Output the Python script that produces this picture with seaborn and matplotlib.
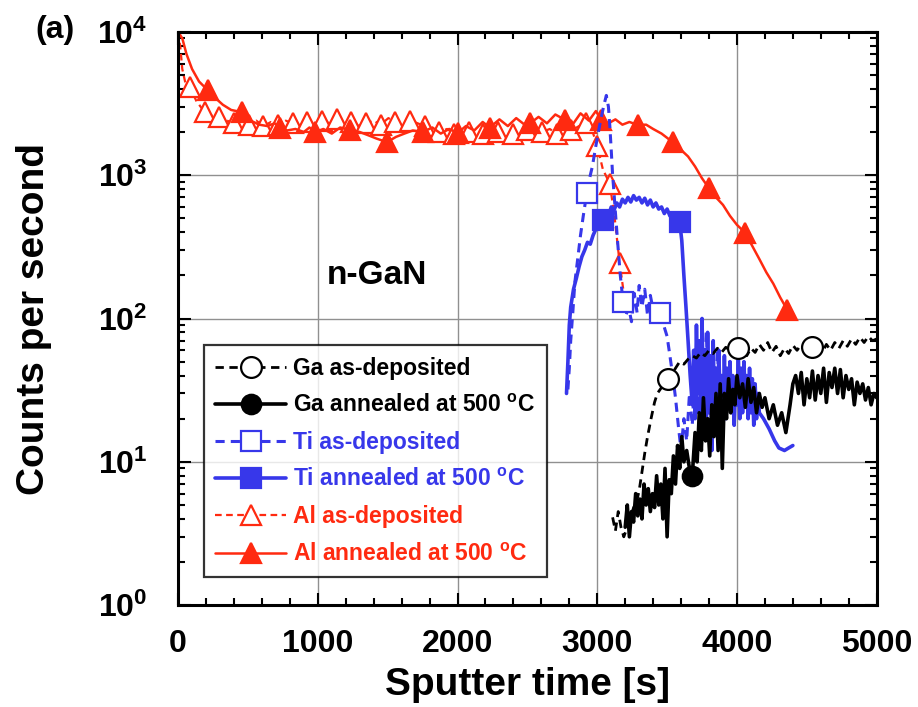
import numpy as np
import pandas as pd
import matplotlib
matplotlib.use("Agg")
import matplotlib.pyplot as plt
import seaborn as sns

# ---------------- data ----------------
al_ann_t = [0, 30, 60, 100, 150, 214, 260, 320, 380, 457, 520, 580, 640, 690, 730, 780, 840, 900,
            940, 980, 1040, 1100, 1160, 1230, 1300, 1360, 1420, 1495, 1560, 1620, 1680, 1750, 1820,
            1880, 1940, 2000, 2060, 2120, 2180, 2230, 2300, 2360, 2420, 2480, 2520, 2580, 2640,
            2700, 2770, 2830, 2880, 2940, 2990, 3030, 3080, 3130, 3180, 3230, 3290, 3350, 3400,
            3460, 3540, 3600, 3650, 3700, 3750, 3800, 3850, 3900, 3950, 4000, 4060, 4110, 4160,
            4210, 4260, 4310, 4360, 4400]
al_ann_v = [10000, 9000, 7000, 5500, 4500, 3900, 3500, 3100, 2850, 2750, 2400, 2250, 2200, 2300,
            2150, 2050, 2100, 2000, 2150, 2000, 2100, 1950, 2150, 2070, 2000, 1900, 1800, 1700,
            1850, 1950, 2050, 2000, 2150, 1950, 2100, 1970, 2200, 2050, 2350, 2150, 2450, 2200,
            2500, 2250, 2300, 2550, 2300, 2650, 2430, 2300, 2700, 2400, 2800, 2430, 2300, 2450,
            2250, 2350, 2240, 2250, 2100, 1950, 1700, 1500, 1350, 1150, 950, 810, 700, 620, 520,
            450, 395, 320, 260, 210, 175, 140, 115, 100]
al_ann_marks = [5, 9, 14, 19, 23, 27, 31, 35, 39, 44, 48, 53, 58, 62, 67, 72, 78]

al_dep_t = [0, 15, 30, 50, 86, 130, 190, 240, 295, 350, 400, 455, 505, 560, 610, 665, 715, 770,
            820, 875, 925, 980, 1030, 1085, 1135, 1190, 1240, 1295, 1345, 1400, 1450, 1505, 1555,
            1610, 1660, 1715, 1765, 1820, 1870, 1925, 1975, 2030, 2080, 2135, 2185, 2240, 2290,
            2345, 2395, 2450, 2500, 2555, 2605, 2660, 2710, 2765, 2815, 2870, 2920, 2960, 3000,
            3040, 3090, 3125, 3160, 3190, 3210]
al_dep_v = [10000, 8000, 5500, 4500, 4100, 3300, 2750, 2600, 2550, 2400, 2300, 2450, 2250, 2400,
            2200, 2350, 2250, 2400, 2300, 2200, 2350, 2250, 2400, 2300, 2450, 2250, 2350, 2200,
            2300, 2400, 2250, 2500, 2350, 2250, 2400, 2300, 2200, 2100, 2000, 2100, 1950, 1900,
            2000, 1850, 1950, 1900, 2000, 1850, 1950, 1900, 2050, 1950, 2000, 2100, 1950, 2150,
            2050, 2200, 2300, 2100, 1600, 1100, 870, 500, 245, 150, 120]
al_dep_marks = [4, 6, 8, 10, 12, 14, 16, 18, 20, 22, 24, 26, 28, 30, 32, 34, 36, 38, 40, 42, 44,
                46, 48, 50, 52, 54, 56, 58, 60, 62, 64]

ti_dep_t = [2790, 2800, 2810, 2825, 2840, 2860, 2880, 2900, 2925, 2945, 2965, 2990, 3020, 3045,
            3065, 3080, 3090, 3100, 3110, 3120, 3130, 3145, 3165, 3185, 3205, 3225, 3245, 3265,
            3285, 3300, 3320, 3340, 3360, 3380, 3400, 3425, 3450, 3475, 3500, 3520, 3540, 3560,
            3580, 3600, 3620, 3640, 3660, 3680, 3700, 3720, 3740, 3760, 3780, 3800, 3820, 3840,
            3860, 3880, 3900]
ti_dep_v = [32, 45, 70, 110, 180, 260, 380, 520, 750, 950, 1150, 1600, 2300, 3000, 3600, 3000,
            2200, 1500, 1000, 750, 550, 350, 200, 130, 105, 120, 95, 150, 110, 170, 120, 160, 105,
            145, 115, 125, 110, 90, 75, 55, 40, 28, 18, 12, 20, 14, 30, 18, 45, 22, 65, 25, 80,
            30, 55, 20, 60, 25, 40]
ti_dep_marks = [8, 23, 36]

ti_ann_t = [2780, 2790, 2800, 2810, 2830, 2850, 2870, 2890, 2910, 2930, 2950, 2970, 2990, 3010,
            3040, 3060, 3080, 3100, 3120, 3140, 3160, 3180, 3200, 3220, 3240, 3260, 3280, 3300,
            3320, 3340, 3360, 3380, 3400, 3420, 3440, 3460, 3480, 3500, 3520, 3540, 3560, 3590,
            3605, 3620, 3635, 3650, 3665, 3680, 3690, 3700, 3710, 3720, 3730, 3740, 3750, 3760,
            3770, 3780, 3790, 3800, 3810, 3820, 3830, 3840, 3850, 3860, 3870, 3880, 3890, 3900,
            3910, 3920, 3930, 3940, 3950, 3960, 3970, 3980, 3990, 4000, 4010, 4020, 4030, 4040,
            4050, 4060, 4070, 4080, 4090, 4100, 4110, 4120, 4130, 4140, 4150, 4160, 4190, 4230,
            4270, 4300, 4340, 4370, 4400]
ti_ann_v = [30, 50, 90, 120, 160, 190, 230, 270, 300, 340, 330, 380, 420, 470, 490, 540, 520,
            600, 570, 640, 600, 680, 640, 700, 650, 720, 670, 700, 640, 690, 620, 670, 600, 640,
            580, 600, 540, 580, 520, 540, 480, 470, 350, 200, 120, 70, 40, 25, 60, 20, 90, 30,
            70, 18, 100, 25, 60, 15, 80, 22, 55, 12, 70, 20, 45, 15, 60, 25, 40, 18, 55, 20, 45,
            25, 50, 22, 40, 18, 35, 25, 55, 20, 45, 22, 50, 25, 40, 20, 45, 22, 38, 18, 35, 20,
            30, 22, 20, 17, 14, 12.5, 12, 12.5, 13]
ti_ann_marks = [14, 41]

ga_dep_t = [3110, 3130, 3150, 3170, 3190, 3210, 3230, 3260, 3280, 3300, 3320, 3340, 3360, 3385,
            3410, 3430, 3460, 3480, 3505, 3530, 3560, 3590, 3620, 3650, 3680, 3710, 3740, 3770,
            3800, 3830, 3860, 3890, 3920, 3950, 3980, 4005, 4040, 4070, 4100, 4130, 4160, 4190,
            4220, 4250, 4280, 4310, 4340, 4370, 4400, 4430, 4460, 4490, 4540, 4580, 4610, 4640,
            4670, 4700, 4730, 4760, 4790, 4820, 4850, 4880, 4910, 4940, 4970, 5000]
ga_dep_v = [4.1, 3.3, 4.5, 3.5, 3.0, 3.4, 3.8, 4.8, 5.2, 6.3, 8.5, 11.5, 15, 20, 26, 30, 33, 35,
            38, 40, 45, 50, 48, 52, 55, 53, 58, 55, 60, 57, 62, 58, 63, 60, 62, 62, 60, 55, 62,
            58, 66, 60, 68, 58, 64, 55, 62, 57, 65, 60, 66, 62, 63, 62, 58, 66, 60, 68, 62, 70,
            64, 72, 66, 74, 68, 75, 70, 72]
ga_dep_marks = [18, 35, 52]

ga_ann_t = [3200, 3215, 3230, 3245, 3260, 3275, 3290, 3305, 3320, 3335, 3350, 3365, 3380, 3395,
            3410, 3425, 3440, 3455, 3470, 3485, 3500, 3515, 3530, 3545, 3560, 3575, 3590, 3605,
            3620, 3640, 3660, 3680, 3700, 3715, 3730, 3745, 3760, 3775, 3790, 3805, 3820, 3835,
            3850, 3865, 3880, 3895, 3910, 3925, 3940, 3955, 3970, 3985, 4000, 4020, 4040, 4060,
            4080, 4100, 4120, 4140, 4160, 4180, 4200, 4230, 4260, 4290, 4320, 4350, 4380, 4400,
            4420, 4440, 4460, 4480, 4500, 4520, 4540, 4560, 4580, 4600, 4620, 4640, 4660, 4680,
            4700, 4720, 4740, 4760, 4780, 4800, 4820, 4840, 4860, 4880, 4900, 4920, 4940, 4960,
            4980, 5000]
ga_ann_v = [3.5, 5, 3, 4.5, 3.8, 6, 4.2, 5.5, 4, 7, 5, 6.5, 4.5, 6, 4.8, 8, 5, 7, 4, 9, 3, 7.5,
            6, 11, 7, 13, 9, 15, 10, 12, 9, 8, 16, 10, 22, 12, 28, 14, 20, 11, 25, 15, 30, 12, 35,
            9, 30, 20, 38, 22, 32, 25, 40, 28, 35, 24, 38, 26, 33, 22, 30, 24, 28, 20, 25, 18,
            22, 16, 25, 35, 40, 30, 42, 25, 38, 28, 43, 27, 40, 30, 45, 26, 42, 33, 45, 30, 44,
            28, 40, 32, 38, 25, 36, 30, 35, 27, 33, 25, 30, 28]
ga_ann_marks = [31]

labels = ["Ga as-deposited", "Ga annealed at 500 $^\\mathrm{o}$C", "Ti as-deposited",
          "Ti annealed at 500 $^\\mathrm{o}$C", "Al as-deposited", "Al annealed at 500 $^\\mathrm{o}$C"]
x_ticks = [0, 1000, 2000, 3000, 4000, 5000]
y_ticks = [1, 10, 100, 1000, 10000]
y_tick_labels = ["$\\mathbf{10^{0}}$", "$\\mathbf{10^{1}}$", "$\\mathbf{10^{2}}$",
                 "$\\mathbf{10^{3}}$", "$\\mathbf{10^{4}}$"]

# ---------------- style ----------------
sns.set_theme(style="ticks")
plt.rcParams["font.family"] = ["Liberation Sans", "DejaVu Sans"]
plt.rcParams["font.weight"] = "bold"
plt.rcParams["text.color"] = "black"
plt.rcParams["axes.labelcolor"] = "black"
plt.rcParams["xtick.color"] = "black"
plt.rcParams["ytick.color"] = "black"
plt.rcParams["mathtext.fontset"] = "custom"
plt.rcParams["mathtext.rm"] = "Liberation Sans:bold"
plt.rcParams["mathtext.bf"] = "Liberation Sans:bold"
plt.rcParams["mathtext.it"] = "Liberation Sans:bold"

RED = "#ff2a10"
BLUE = "#3737ea"
BLACK = "#000000"

fig = plt.figure(figsize=(9.18, 7.07), dpi=100)
ax = fig.add_axes([0.194, 0.144, 0.761, 0.811])

series = [
    (ga_dep_t, ga_dep_v, ga_dep_marks, BLACK, (0, (3, 2)), "o", "white", 15, 2.0),
    (ga_ann_t, ga_ann_v, ga_ann_marks, BLACK, "-", "o", BLACK, 14, 2.6),
    (ti_dep_t, ti_dep_v, ti_dep_marks, BLUE, (0, (3, 2)), "s", "white", 14, 2.2),
    (ti_ann_t, ti_ann_v, ti_ann_marks, BLUE, "-", "s", BLUE, 14, 2.6),
    (al_dep_t, al_dep_v, al_dep_marks, RED, (0, (3, 2)), "^", "white", 14, 1.6),
    (al_ann_t, al_ann_v, al_ann_marks, RED, "-", "^", RED, 15, 1.8),
]
order = [4, 5, 2, 3, 0, 1]
handles = [None] * 6
for i in order:
    t, v, mk, col, ls, m, mfc, ms, lw = series[i]
    df = pd.DataFrame({"t": t, "v": v})
    sns.lineplot(data=df, x="t", y="v", ax=ax, sort=False, estimator=None,
                 color=col, linestyle=ls, linewidth=lw, marker=m, markersize=ms,
                 markerfacecolor=mfc, markeredgecolor=col, markeredgewidth=1.6,
                 markevery=mk, label=labels[i])
    handles[i] = ax.get_lines()[-1]

ax.set_yscale("log")
ax.set_xlim(0, 5000)
ax.set_ylim(1, 10000)
ax.set_xticks(x_ticks)
ax.set_xticklabels([str(x) for x in x_ticks])
ax.set_xticks(np.arange(0, 5001, 200), minor=True)
ax.set_yticks(y_ticks)
ax.set_yticklabels(y_tick_labels)
ax.yaxis.set_minor_locator(matplotlib.ticker.LogLocator(base=10, subs=np.arange(2, 10)))
ax.yaxis.set_minor_formatter(matplotlib.ticker.NullFormatter())

ax.grid(True, which="major", color="#909090", linewidth=1.0, linestyle="-")
ax.set_axisbelow(True)
ax.tick_params(which="both", direction="in", top=True, right=True, width=1.5)
ax.tick_params(axis="x", which="major", length=9, labelsize=23, pad=17)
ax.tick_params(axis="y", which="major", length=9, labelsize=23, pad=22)
ax.tick_params(which="minor", length=5)
for s in ax.spines.values():
    s.set_linewidth(2.2)
    s.set_color("black")

ax.set_xlabel("Sputter time [s]", fontsize=28, fontweight="bold")
ax.set_ylabel("Counts per second", fontsize=28, fontweight="bold")
ax.xaxis.set_label_coords(0.5, -0.108)
ax.yaxis.set_label_coords(-0.18, 0.5)

ax.text(1420, 200, "n-GaN", fontsize=24, fontweight="bold", ha="center", va="center")
fig.text(0.038, 0.958, "(a)", fontsize=23, fontweight="bold", ha="left", va="center")

leg = ax.legend(handles=handles, labels=labels, loc="lower left",
                bbox_to_anchor=(0.037, 0.049), borderaxespad=0, fontsize=16.5,
                handlelength=3.1, handletextpad=0.3, labelspacing=0.62,
                frameon=True, fancybox=False, edgecolor="black", borderpad=0.5)
leg.get_frame().set_linewidth(1.6)
for txt, col in zip(leg.get_texts(), [BLACK, BLACK, BLUE, BLUE, RED, RED]):
    txt.set_color(col)
    txt.set_fontweight("bold")

fig.savefig("out.png", dpi=100)
